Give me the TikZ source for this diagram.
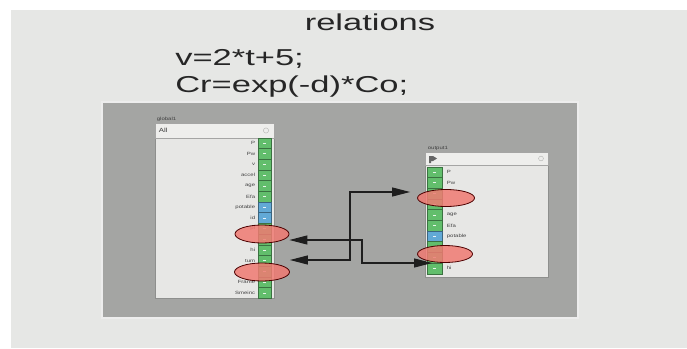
\documentclass[tikz,border=0pt]{standalone}
\usepackage{fontspec}
\setmainfont{Liberation Sans}
\usetikzlibrary{arrows.meta,shapes.geometric}
\definecolor{slide}{HTML}{E6E7E5}
\definecolor{canvas}{HTML}{A4A5A3}
\definecolor{blockbg}{HTML}{E7E7E5}
\definecolor{titlebg}{HTML}{EEEEEC}
\definecolor{edge}{HTML}{8E8F8D}
\definecolor{portg}{HTML}{62BE6C}
\definecolor{portb}{HTML}{62A9D6}
\definecolor{mark}{HTML}{F07A72}
\definecolor{ink}{HTML}{1E1E1E}
\tikzset{
  block/.style={draw=edge, fill=blockbg, line width=0.6pt},
  titlebar/.style={draw=edge!80, fill=titlebg, line width=0.5pt},
  portg/.style={draw=portg!60!black, fill=portg, line width=0.3pt},
  portb/.style={draw=portb!60!black, fill=portb, line width=0.3pt},
  lbl/.style={font=\fontsize{4.6}{5}\selectfont, text=black!75, inner sep=0.5pt, xscale=1.3},
  slidetext/.style={font=\fontsize{23}{25}\selectfont, text=black!85, xscale=1.5, inner sep=0pt},
  hilite/.style={ellipse, draw=black!70!red, fill=mark, fill opacity=0.85, line width=0.8pt, inner sep=0pt},
  conn/.style={draw=ink, line width=1.1pt, {Triangle[length=18pt,width=9pt]}-{Triangle[length=18pt,width=9pt]}},
}
\begin{document}
\begin{tikzpicture}[x=1pt,y=-1pt]
  % page and slide background
  \fill[white] (0,0) rectangle (687,348);
  \useasboundingbox (0,0) rectangle (687,348);
  \fill[slide] (11,10) rectangle (687,348);

  % slide text
  \node[slidetext, anchor=base] (ttl) at (370,30) {relations};
  \node[slidetext, anchor=base west] (eq1) at (175,65) {v=2*t+5;};
  \node[slidetext, anchor=base west] (eq2) at (175,92) {Cr=exp(-d)*Co;};

  % editor canvas
  \fill[white!80!canvas] (101,101) rectangle (579,319);
  \fill[canvas] (103,103) rectangle (577,317);

  % ---------- block global1 ----------
  \node[lbl, anchor=base west] (gname) at (156,120) {global1};
  \draw[block] (155,123) rectangle (274,298);
  \draw[titlebar] (155,123) rectangle (274,138);
  \node[lbl, anchor=west, font=\fontsize{6}{6}\selectfont] (gall) at (158,130.5) {All};
  \draw[edge!70, line width=0.4pt] (266,130.5) circle (2.6pt);
  \foreach \i/\t/\c in {0/P/portg,1/Pw/portg,2/v/portg,3/accel/portg,4/age/portg,
                        5/Efa/portg,6/potable/portb,7/id/portb,8/pl/portg,9//portg,
                        10/hi/portg,11/tum/portg,12//portg,13/Frame/portg,14/Smeinc/portg}{
    \pgfmathsetmacro{\yy}{143+10.7*\i}
    \draw[\c] (258,\yy-5.35) rectangle (271,\yy+5.35);
    \draw[white!85!\c, line width=0.6pt] (263,\yy) -- (266,\yy);
    \node[lbl, anchor=east] (gp\i) at (256,\yy) {\t};
  }

  % ---------- block output1 ----------
  \node[lbl, anchor=base west] (oname) at (427,149) {output1};
  \draw[block] (425,152) rectangle (548,277);
  \draw[titlebar] (425,152) rectangle (548,165);
  \fill[black!60] (429,156) -- (433,156) -- (437,158.5) -- (433,161) -- (431,161) -- (431,163) -- (429,163) -- cycle;
  \draw[edge!70, line width=0.4pt] (541,158.5) circle (2.4pt);
  \foreach \i/\t/\c in {0/P/portg,1/Pw/portg,2//portg,3//portg,4/age/portg,
                        5/Efa/portg,6/potable/portb,7//portg,8//portg,9/hi/portg}{
    \pgfmathsetmacro{\yy}{172+10.7*\i}
    \draw[\c] (427,\yy-5.35) rectangle (442,\yy+5.35);
    \draw[white!85!\c, line width=0.6pt] (433,\yy) -- (436,\yy);
    \node[lbl, anchor=west] (op\i) at (446,\yy) {\t};
  }

  % highlighted ports
  \node[hilite, minimum width=54pt, minimum height=18pt] (ga) at (262,234) {};
  \node[hilite, minimum width=55pt, minimum height=18pt] (gb) at (262,272) {};
  \node[hilite, minimum width=57pt, minimum height=17pt] (oa) at (446,198) {};
  \node[hilite, minimum width=55pt, minimum height=17pt] (ob) at (445,254) {};

  % connections between the highlighted ports (canvas y grows downwards)
  \coordinate (ca1) at ([yshift=-6pt]ga.east);
  \coordinate (ca2) at ([shift={(15pt,-9pt)}]ob.west);
  \coordinate (cb1) at ([yshift=12pt]gb.east);
  \coordinate (cb2) at ([shift={(-7pt,6pt)}]oa.west);
  \draw[conn] (ca1) -| (362,263) -- (ca2);
  \draw[conn] (cb1) -| (350,192) -- (cb2);
\end{tikzpicture}
\end{document}
